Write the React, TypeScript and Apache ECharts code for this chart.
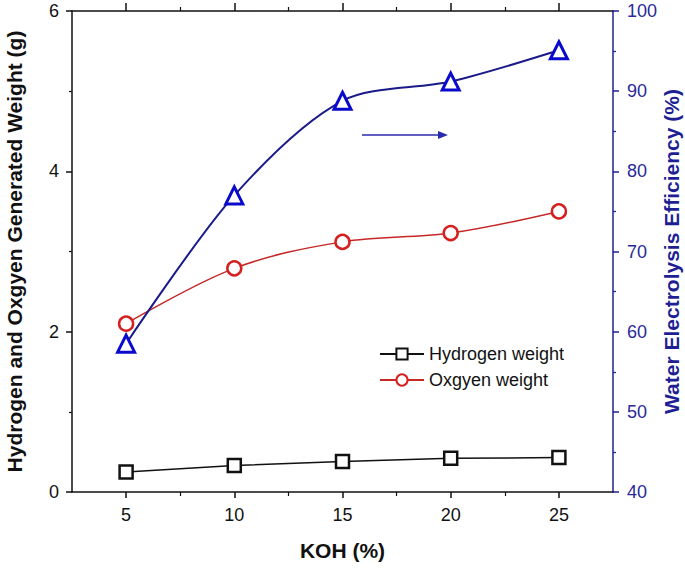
import React, { useEffect, useRef } from "react";
import * as echarts from "echarts";

const koh = [5, 10, 15, 20, 25];
const hydrogenWeight = [0.25, 0.33, 0.38, 0.42, 0.43];
const oxygenWeight = [2.1, 2.79, 3.12, 3.23, 3.5];
const efficiency = [58.5, 77.0, 88.8, 91.2, 95.1];
const majorX = [5, 10, 15, 20, 25];
const minorX = [7.5, 12.5, 17.5, 22.5];

const FONT = "Liberation Sans, Arial, sans-serif";
const NAVY = "#1f1f94";
const BLUE = "#0a0acc";

export default function App() {
  const ref = useRef<HTMLDivElement>(null);
  useEffect(() => {
    const chart = echarts.init(ref.current!, null, { renderer: "svg" });
    const pair = (ys: number[]) => koh.map((x, i) => [x, ys[i]]);
    const xBase = {
      type: "value",
      min: 2.5,
      max: 27.5,
      splitLine: { show: false },
    };
    chart.setOption({
      animation: false,
      grid: { left: 72, right: 72, top: 11, bottom: 76, outerBoundsMode: "none", containLabel: false },
      legend: {
        data: ["Hydrogen weight", "Oxgyen weight"],
        orient: "vertical",
        left: 374,
        top: 340,
        itemGap: 8,
        itemWidth: 44,
        itemHeight: 14,
        textStyle: { fontFamily: FONT, fontSize: 18, color: "#111" },
      },
      xAxis: [
        {
          ...xBase,
          position: "bottom",
          name: "KOH (%)",
          nameLocation: "middle",
          nameGap: 48,
          nameMoveOverlap: false,
          nameTextStyle: { fontFamily: FONT, fontSize: 21, fontWeight: "bold", color: "#111" },
          axisLine: { lineStyle: { color: "#111", width: 1.5 } },
          axisTick: { customValues: majorX, length: 6, lineStyle: { color: "#111", width: 1.5 } },
          axisLabel: { customValues: majorX, fontFamily: FONT, fontSize: 18, color: "#111", margin: 14 },
        },
        {
          ...xBase,
          position: "bottom",
          axisLine: { show: false },
          axisTick: { customValues: minorX, length: 4, lineStyle: { color: "#111", width: 1.2 } },
          axisLabel: { show: false },
        },
        {
          ...xBase,
          position: "top",
          axisLine: { lineStyle: { color: "#111", width: 1.5 } },
          axisTick: { customValues: majorX, length: 8, lineStyle: { color: "#111", width: 1.5 } },
          axisLabel: { show: false },
        },
        {
          ...xBase,
          position: "top",
          axisLine: { show: false },
          axisTick: { customValues: minorX, length: 4, lineStyle: { color: "#111", width: 1.2 } },
          axisLabel: { show: false },
        },
      ],
      yAxis: [
        {
          type: "value",
          min: 0,
          max: 6,
          interval: 2,
          position: "left",
          name: "Hydrogen and Oxgyen Generated Weight (g)",
          nameLocation: "middle",
          nameGap: 47,
          nameMoveOverlap: false,
          nameTextStyle: { fontFamily: FONT, fontSize: 21, fontWeight: "bold", color: "#111" },
          splitLine: { show: false },
          axisLine: { show: true, lineStyle: { color: "#111", width: 1.5 } },
          axisTick: { show: true, length: 6, lineStyle: { color: "#111", width: 1.5 } },
          minorTick: { show: true, splitNumber: 2, length: 3, lineStyle: { color: "#111", width: 1.2 } },
          axisLabel: { fontFamily: FONT, fontSize: 18, color: "#111", margin: 13 },
        },
        {
          type: "value",
          min: 40,
          max: 100,
          interval: 10,
          position: "right",
          name: "Water Electrolysis Efficiency (%)",
          nameLocation: "middle",
          nameGap: 48,
          nameMoveOverlap: false,
          nameRotate: 90,
          nameTextStyle: { fontFamily: FONT, fontSize: 21, fontWeight: "bold", color: NAVY },
          splitLine: { show: false },
          axisLine: { show: true, lineStyle: { color: NAVY, width: 1.5 } },
          axisTick: { show: true, length: 6, lineStyle: { color: NAVY, width: 1.5 } },
          minorTick: { show: true, splitNumber: 2, length: 3, lineStyle: { color: NAVY, width: 1.2 } },
          axisLabel: { fontFamily: FONT, fontSize: 18, color: "#2a2a9a", margin: 14 },
        },
      ],
      graphic: [
        {
          type: "line",
          shape: { x1: 362, y1: 135, x2: 440, y2: 135 },
          style: { stroke: "#2a2ab0", lineWidth: 1.5 },
        },
        {
          type: "polygon",
          shape: { points: [[448, 135], [438, 131], [438, 139]] },
          style: { fill: "#2a2ab0" },
        },
      ],
      series: [
        {
          name: "Hydrogen weight",
          type: "line",
          xAxisIndex: 0,
          yAxisIndex: 0,
          data: pair(hydrogenWeight),
          symbol: "rect",
          symbolSize: 13,
          lineStyle: { color: "#111", width: 1.5 },
          itemStyle: { color: "#fff", borderColor: "#111", borderWidth: 2.5 },
          z: 3,
        },
        {
          name: "Oxgyen weight",
          type: "line",
          xAxisIndex: 0,
          yAxisIndex: 0,
          data: pair(oxygenWeight),
          smooth: 0.35,
          symbol: "circle",
          symbolSize: 14,
          lineStyle: { color: "#c62828", width: 1.5 },
          itemStyle: { color: "#fff", borderColor: "#d42020", borderWidth: 2.5 },
          z: 3,
        },
        {
          name: "Efficiency",
          type: "line",
          xAxisIndex: 0,
          yAxisIndex: 1,
          data: pair(efficiency),
          smooth: 0.3,
          symbol: "triangle",
          symbolSize: 17,
          lineStyle: { color: "#1a1a8a", width: 2 },
          itemStyle: { color: "#fff", borderColor: BLUE, borderWidth: 3 },
          z: 3,
        },
      ],
    });
    return () => chart.dispose();
  }, []);
  return <div ref={ref} style={{ width: 685, height: 568, position: "absolute", left: 0, top: 0 }} />;
}
